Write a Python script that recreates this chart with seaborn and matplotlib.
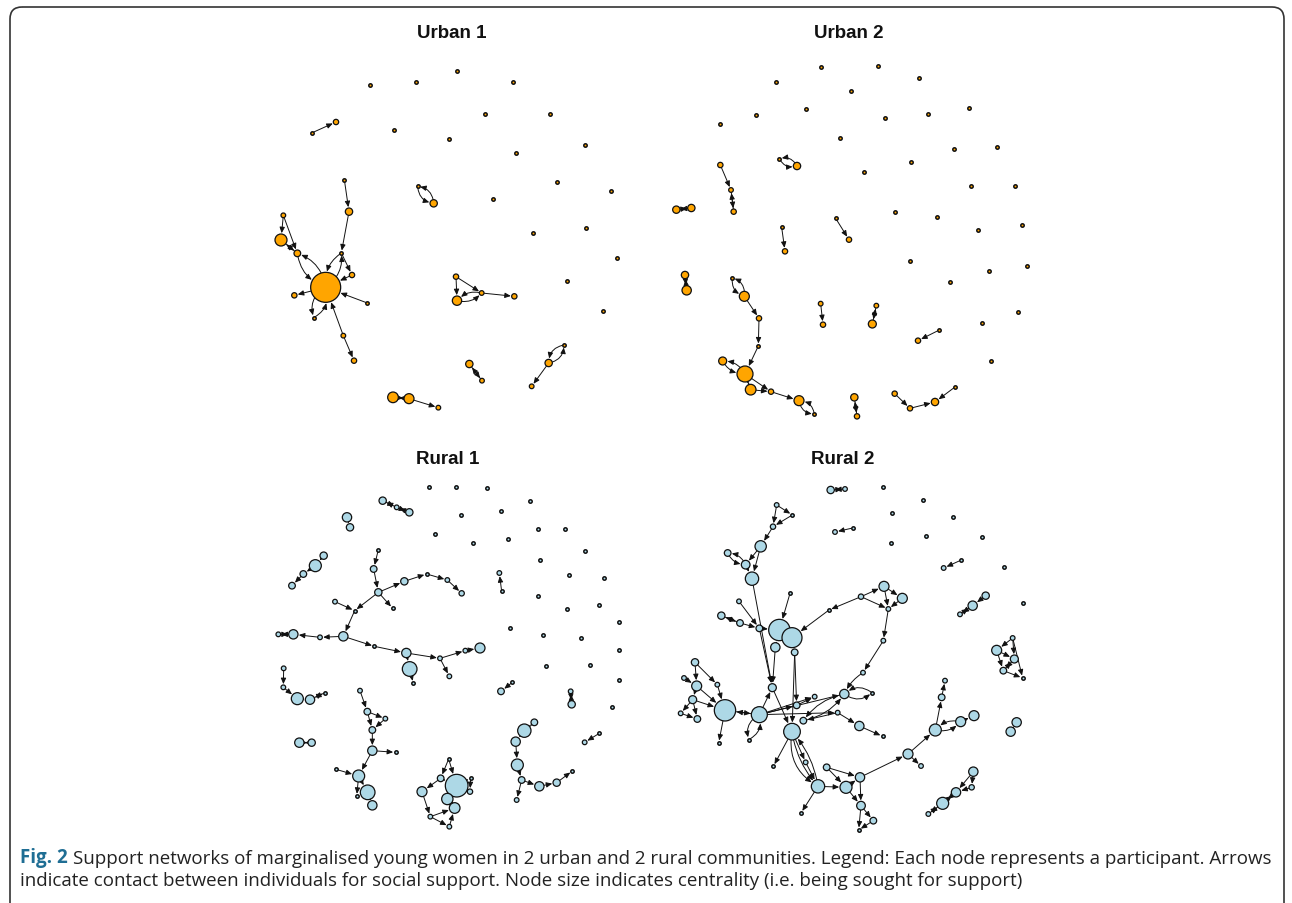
import numpy as np
import pandas as pd
import seaborn as sns
import matplotlib.pyplot as plt
from matplotlib.patches import FancyBboxPatch

sns.set_style("white")
plt.rcParams['font.family'] = ['Liberation Sans', 'DejaVu Sans']

# node layouts: x, y (layout units), radius; edges: (from, to, curvature)
# ---- Urban 1 ----
u1_x = [172, 243, 212, 268, 282, 85, 78, 127, 259, 291, 118, 337, 176, 265, 297,
        488, 536, 603, 606, 680, 778, 643, 681, 927, 881, 830, 414, 462, 550]
u1_y = [236, 204, 700, 377, 473, 484, 558, 598, 597, 663, 724, 747, 791, 845, 920,
        397, 448, 668, 740, 717, 727, 930, 980, 873, 927, 997, 1030, 1034, 1061]
u1_r = [5, 8, 45, 5, 11, 7, 18, 10, 5, 8, 8, 5, 5, 7, 8,
        5, 11, 8, 14, 7, 8, 11, 7, 5, 11, 7, 16, 15, 7]
u1_edges = [(0, 1, 0), (3, 4, 0), (4, 8, 0), (8, 2, .3), (2, 8, .3), (8, 9, 0), (9, 2, 0),
            (5, 6, 0), (5, 7, 0), (6, 7, 0), (7, 6, 0), (7, 2, .3), (2, 7, .3), (2, 10, 0),
            (11, 2, 0), (12, 2, .4), (2, 12, .4), (13, 2, 0), (13, 14, 0), (15, 16, .4),
            (16, 15, .4), (17, 18, 0), (17, 19, 0), (19, 18, .3), (18, 19, .3), (19, 20, 0),
            (21, 22, 0), (22, 21, 0), (23, 24, .4), (24, 23, .4), (24, 25, 0),
            (26, 27, 0), (27, 26, 0), (27, 28, 0)]
u1_iso_x = [345, 483, 607, 773, 690, 885, 418, 581, 783, 991, 906, 1067, 713, 993, 835, 1087, 937, 1043]
u1_iso_y = [93, 85, 52, 84, 180, 180, 228, 255, 296, 272, 383, 412, 436, 523, 536, 613, 681, 770]

# ---- Urban 2 ----
u2_x = [373, 426, 196, 228, 236, 64, 109, 542, 582, 380, 390, 90, 95, 232, 268, 312, 310,
        270, 203, 287, 348, 432, 478, 497, 504, 664, 652, 851, 789, 598, 606, 719, 765, 840, 900]
u2_y = [314, 336, 333, 408, 473, 467, 462, 493, 557, 520, 592, 663, 709, 671, 727, 793, 876,
        960, 921, 1007, 1013, 1040, 1080, 749, 812, 755, 810, 829, 860, 1030, 1087, 1019, 1063, 1044, 999]
u2_r = [5, 11, 8, 7, 8, 11, 11, 5, 8, 5, 8, 11, 14, 5, 15, 8, 5,
        24, 12, 16, 8, 15, 5, 7, 8, 7, 12, 5, 8, 11, 8, 8, 8, 11, 5]
u2_edges = [(0, 1, .4), (1, 0, .4), (2, 3, 0), (3, 4, 0), (4, 3, 0), (5, 6, 0), (6, 5, 0),
            (7, 8, 0), (9, 10, 0), (11, 12, 0), (12, 11, 0), (13, 14, .4), (14, 13, .4),
            (14, 15, 0), (15, 16, 0), (16, 17, 0), (18, 17, .3), (17, 18, .3), (17, 19, 0),
            (19, 17, 0), (19, 20, 0), (17, 20, 0), (20, 21, 0), (21, 22, .4), (22, 21, .4),
            (23, 24, 0), (25, 26, 0), (26, 25, 0), (27, 28, 0), (29, 30, 0), (30, 29, 0),
            (31, 32, 0), (32, 33, 0), (34, 33, 0)]
u2_iso_x = [498, 670, 364, 793, 589, 454, 303, 196, 690, 820, 941, 556, 897, 1027, 769, 628, 948,
            1080, 719, 845, 970, 1102, 764, 1002, 885, 1115, 1089, 981, 1007]
u2_iso_y = [38, 36, 85, 72, 110, 165, 184, 209, 193, 181, 163, 252, 285, 278, 325, 355, 397,
            395, 474, 488, 528, 513, 622, 652, 684, 637, 775, 806, 921]

# ---- Rural 1 ----
r1_x = [368, 410, 448, 261, 270, 191, 166, 130, 96, 355, 341, 355, 398, 433, 500, 562, 605,
        284, 225, 250, 180, 100, 55, 343, 439, 449, 460, 540, 616, 660, 568, 71, 70, 112, 150,
        195, 300, 322, 337, 376, 337, 407, 296, 228, 323, 337, 290, 118, 155, 566, 542, 486,
        590, 632, 630, 562, 584, 511, 568, 757, 723, 932, 935, 823, 793, 767, 772, 785, 770,
        838, 890, 937, 1018, 974, 718, 725]
r1_y = [80, 100, 115, 130, 160, 245, 275, 300, 335, 227, 285, 355, 403, 322, 300, 318, 358,
        410, 383, 487, 490, 481, 481, 517, 537, 585, 628, 553, 530, 522, 607, 583, 640, 674, 677,
        656, 650, 713, 768, 734, 830, 835, 906, 886, 955, 994, 967, 806, 806, 855, 913, 953,
        935, 912, 953, 975, 1002, 1028, 1058, 625, 652, 652, 691, 745, 770, 803, 873, 918, 978,
        937, 926, 891, 778, 805, 297, 352]
r1_r = [11, 7, 11, 14, 11, 11, 18, 10, 10, 5, 10, 11, 5, 11, 5, 7, 8,
        5, 7, 14, 7, 14, 7, 5, 14, 22, 5, 7, 7, 15, 7, 7, 7, 18, 14,
        5, 7, 10, 10, 7, 14, 5, 18, 5, 22, 14, 5, 14, 11, 5, 10, 15,
        34, 5, 8, 17, 16, 7, 7, 5, 10, 7, 11, 10, 20, 14, 18, 10, 7,
        14, 11, 5, 5, 7, 7, 5]
r1_edges = [(0, 1, 0), (1, 0, 0), (1, 2, 0), (2, 1, 0), (3, 4, 0), (5, 6, 0), (6, 7, 0), (7, 8, 0),
            (9, 10, 0), (10, 11, 0), (11, 12, 0), (11, 13, 0), (13, 14, 0), (14, 15, 0), (15, 16, 0),
            (11, 17, 0), (17, 19, 0), (18, 17, 0), (19, 20, 0), (20, 21, 0), (21, 22, 0), (22, 21, 0),
            (19, 23, 0), (23, 24, 0), (24, 25, 0), (25, 26, 0), (24, 27, 0), (27, 28, 0), (28, 29, 0),
            (27, 30, 0), (31, 32, 0), (32, 33, 0), (33, 34, 0), (34, 35, 0), (35, 34, 0),
            (36, 37, 0), (37, 38, 0), (37, 39, 0), (39, 38, 0), (38, 40, 0), (40, 41, 0), (40, 42, 0),
            (43, 42, 0), (42, 44, 0), (44, 45, 0), (42, 46, 0), (47, 48, 0), (48, 47, 0),
            (49, 50, 0), (49, 52, 0), (50, 51, 0), (50, 52, 0), (51, 57, 0), (52, 53, 0), (52, 54, 0),
            (53, 54, 0), (52, 55, 0), (55, 56, 0), (57, 56, 0), (57, 58, 0), (58, 56, 0),
            (59, 60, 0), (61, 62, 0), (62, 61, 0), (63, 64, 0), (64, 63, 0), (64, 65, 0), (65, 66, 0),
            (66, 67, 0), (67, 68, 0), (67, 69, 0), (69, 70, 0), (70, 71, 0), (72, 73, 0), (75, 74, 0)]
r1_iso_x = [506, 589, 681, 809, 723, 604, 834, 916, 526, 640, 743, 974, 841, 928, 1031, 834, 922,
            1016, 1076, 751, 850, 963, 1078, 857, 991, 1076, 1056]
r1_iso_y = [38, 40, 43, 82, 110, 123, 164, 164, 181, 206, 195, 232, 259, 303, 311, 366, 405,
            393, 445, 463, 483, 493, 528, 575, 573, 618, 698]

# ---- Rural 2 ----
r2_x = [512, 555, 578, 525, 904, 851, 977, 938, 900, 1058, 1010, 1063, 1030, 1088, 1070, 1052,
        940, 935, 888, 848, 805,
        350, 397, 339, 302, 203, 257, 276, 237, 390, 184, 240, 298, 358, 396, 346, 404, 507, 603,
        672, 727, 685, 670, 609, 105, 72, 110, 172, 98, 62, 112, 195, 298, 337, 410, 464, 553,
        636, 533, 430, 396, 598, 668, 176, 266, 340, 437, 500, 474, 558, 600, 603, 640, 596, 423,
        744, 783, 826, 845, 855, 902, 942]
r2_y = [48, 45, 162, 174, 258, 282, 365, 395, 421, 492, 529, 555, 590, 612, 745, 773,
        893, 940, 955, 988, 1020,
        93, 123, 158, 217, 237, 272, 314, 382, 358, 425, 447, 463, 468, 491, 520, 535, 408, 368,
        337, 373, 405, 500, 596, 565, 612, 636, 632, 677, 718, 735, 709, 722, 641, 694, 668, 660,
        656, 716, 740, 773, 756, 787, 807, 797, 877, 865, 880, 937, 940, 910, 995, 1040, 1068, 1017,
        840, 876, 768, 670, 620, 743, 725]
r2_r = [11, 7, 5, 7, 5, 7, 11, 14, 7, 7, 15, 12, 10, 5, 14, 14,
        14, 8, 14, 18, 7,
        7, 5, 8, 17, 10, 13, 20, 7, 5, 11, 10, 10, 32, 30, 14, 10, 5, 8,
        15, 15, 7, 7, 7, 11, 7, 15, 7, 12, 7, 10, 32, 24, 12, 10, 7, 14,
        5, 7, 10, 25, 14, 5, 5, 5, 5, 7, 10, 20, 18, 14, 13, 10, 5, 5,
        15, 7, 18, 10, 7, 15, 15]
r2_edges = [(1, 0, 0), (0, 1, 0), (2, 3, 0), (4, 5, 0), (6, 7, 0), (7, 8, 0), (8, 7, 0),
            (9, 10, 0), (9, 11, 0), (10, 11, 0), (10, 12, 0), (11, 12, 0), (12, 11, 0), (9, 13, 0),
            (12, 13, 0), (14, 15, 0), (15, 14, 0), (16, 17, 0), (17, 18, 0), (16, 18, 0), (18, 19, 0),
            (19, 18, 0), (19, 20, 0), (20, 19, 0),
            (21, 22, 0), (22, 23, 0), (21, 23, 0), (23, 24, 0), (24, 26, 0), (25, 26, .3), (26, 25, .3),
            (24, 27, 0), (26, 27, 0), (27, 53, 0), (28, 32, 0), (29, 33, 0), (30, 31, 0), (31, 30, 0),
            (31, 32, 0), (32, 33, 0), (33, 34, 0), (34, 33, 0), (35, 33, 0), (36, 34, 0), (37, 34, 0),
            (38, 37, 0), (38, 39, 0), (39, 40, 0), (39, 41, 0), (40, 41, 0), (38, 41, 0), (41, 42, 0),
            (42, 43, 0), (43, 56, .15), (56, 57, .4), (57, 56, .4), (56, 59, .2), (59, 56, .2),
            (58, 61, 0), (61, 62, 0), (35, 53, 0), (36, 54, 0), (36, 60, 0), (32, 53, 0),
            (44, 46, 0), (45, 46, 0), (44, 47, 0), (47, 51, 0), (46, 48, 0), (48, 49, 0), (48, 50, 0),
            (49, 50, 0), (46, 51, 0), (48, 51, 0), (51, 52, 0), (52, 51, 0), (51, 63, 0), (52, 53, 0),
            (52, 64, .4), (64, 52, .4), (53, 60, 0), (52, 54, 0), (52, 55, 0), (52, 56, 0), (54, 55, 0),
            (60, 65, 0), (60, 66, 0), (60, 68, .15), (68, 60, .15), (60, 68, .35), (66, 68, 0),
            (68, 74, 0), (68, 69, 0), (67, 69, 0), (67, 70, 0), (69, 70, 0), (70, 75, 0), (75, 77, 0),
            (75, 76, 0), (77, 78, 0), (78, 79, 0), (77, 80, .3), (80, 77, .3), (80, 81, 0),
            (69, 71, 0), (70, 71, 0), (71, 72, 0), (71, 73, 0), (72, 73, 0), (52, 58, 0), (58, 59, 0)]
r2_iso_x = [668, 789, 696, 879, 797, 967, 693, 1032, 1089]
r2_iso_y = [38, 78, 117, 130, 185, 188, 207, 278, 386]

panels = [
    ("Urban 1", (255, 55, 380, 370), u1_x, u1_y, u1_r, u1_edges, u1_iso_x, u1_iso_y, "orange", (452, 33)),
    ("Urban 2", (655, 55, 390, 370), u2_x, u2_y, u2_r, u2_edges, u2_iso_x, u2_iso_y, "orange", (849, 33)),
    ("Rural 1", (260, 475, 380, 370), r1_x, r1_y, r1_r, r1_edges, r1_iso_x, r1_iso_y, "lightblue", (448, 460)),
    ("Rural 2", (660, 475, 390, 370), r2_x, r2_y, r2_r, r2_edges, r2_iso_x, r2_iso_y, "lightblue", (843, 460)),
]

W, H = 1292, 904
fig = plt.figure(figsize=(W / 100, H / 100), dpi=100)

# rounded frame around the figure
frame = fig.add_axes([0, 0, 1, 1])
frame.set_xlim(0, W)
frame.set_ylim(H, 0)
frame.axis('off')
frame.add_patch(FancyBboxPatch((10, 8), 1274, 930, boxstyle="round,pad=0,rounding_size=12",
                               fill=False, lw=1.2, ec='#333333'))

for title, (px, py, pw, ph), xs, ys, rs, edges, ix, iy, col, (tx, ty) in panels:
    ax = fig.add_axes([px / W, 1 - (py + ph) / H, pw / W, ph / H])
    ax.set_xlim(0, pw * 3)
    ax.set_ylim(ph * 3, 0)
    ax.axis('off')

    nodes = pd.DataFrame({"x": list(xs) + list(ix), "y": list(ys) + list(iy),
                          "r": list(rs) + [5] * len(ix)})
    big = nodes[nodes["r"] > 5]
    tiny = nodes[nodes["r"] <= 5]
    # radius in layout units -> marker area in points^2
    sns.scatterplot(data=big, x="x", y="y", ax=ax, s=(0.48 * big["r"]) ** 2,
                    color=col, edgecolor="#111111", linewidth=0.9, zorder=4, legend=False)
    sns.scatterplot(data=tiny, x="x", y="y", ax=ax, s=6,
                    color=col, edgecolor="#111111", linewidth=1.1, zorder=4, legend=False)

    for a, b, rad in edges:
        ax.annotate("", xy=(xs[b], ys[b]), xytext=(xs[a], ys[a]),
                    arrowprops=dict(arrowstyle="-|>,head_length=0.5,head_width=0.22",
                                    connectionstyle=f"arc3,rad={rad}",
                                    shrinkA=0.24 * rs[a], shrinkB=0.24 * rs[b] + 0.6,
                                    lw=0.7, color="#111111", mutation_scale=7),
                    zorder=2)

    frame.text(tx, ty, title, ha='center', va='center', fontsize=13.5, fontweight='bold',
               color='#111111')

# caption
cap_font = ['Open Sans', 'DejaVu Sans']
t1 = frame.text(20, 863, "Fig. 2", fontsize=13.5, fontweight='bold', color='#1f6e94',
                family=cap_font, va='baseline')
frame.annotate("Support networks of marginalised young women in 2 urban and 2 rural communities. "
               "Legend: Each node represents a participant. Arrows",
               xy=(1, 0), xycoords=t1, xytext=(4, 0), textcoords='offset points',
               fontsize=13.5, family=cap_font, va='bottom', color='#222222')
frame.text(20, 886, "indicate contact between individuals for social support. Node size indicates "
           "centrality (i.e. being sought for support)",
           fontsize=13.5, family=cap_font, va='baseline', color='#222222')

fig.savefig("out.png", dpi=100)
